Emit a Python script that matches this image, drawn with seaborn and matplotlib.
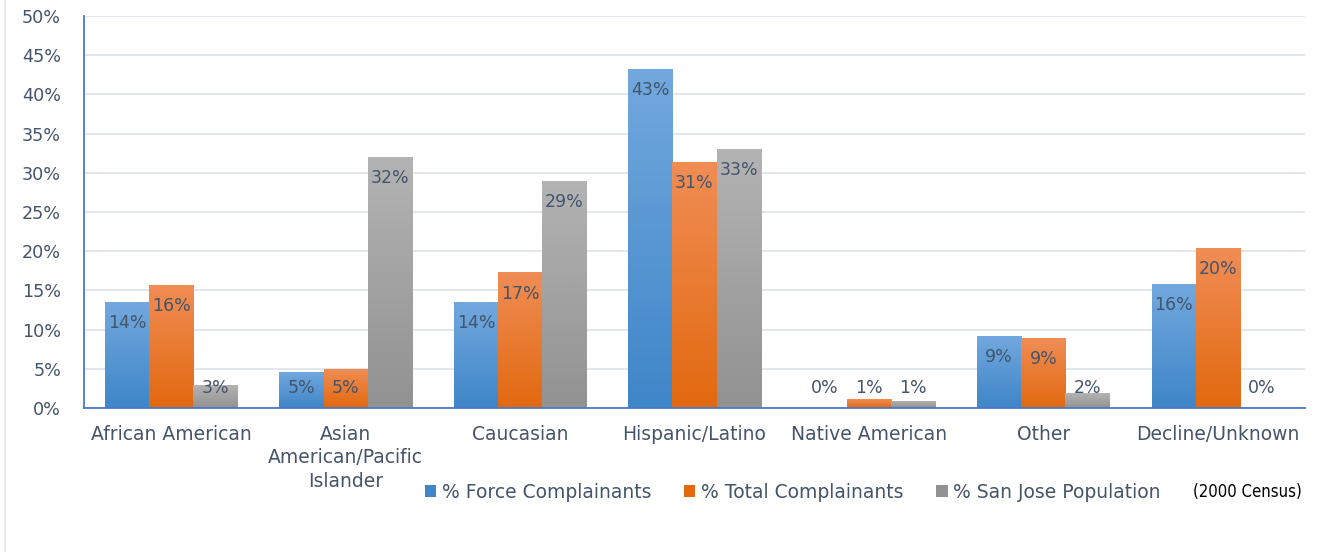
import numpy as np
import pandas as pd
import seaborn as sns
import matplotlib.pyplot as plt
from matplotlib.colors import LinearSegmentedColormap
from matplotlib.patches import Patch

# data (percent)
categories = ['African American', 'Asian\nAmerican/Pacific\nIslander', 'Caucasian',
              'Hispanic/Latino', 'Native American', 'Other', 'Decline/Unknown']
series = ['% Force Complainants', '% Total Complainants', '% San Jose Population']
force_pct = [13.5, 4.6, 13.5, 43.2, 0.0, 9.2, 15.8]
total_pct = [15.7, 5.0, 17.3, 31.4, 1.1, 8.9, 20.4]
population_pct = [2.9, 32.0, 29.0, 33.0, 0.9, 1.9, 0.0]

# gradient colours (top, bottom) per series
grad = {
    series[0]: ('#72a8de', '#3f86c8'),
    series[1]: ('#f08d55', '#e2690f'),
    series[2]: ('#b3b3b3', '#929292'),
}
text_col = '#44546a'
axis_col = '#4a78c8'

df = pd.DataFrame({
    'category': categories * 3,
    'series': [s for s in series for _ in categories],
    'value': force_pct + total_pct + population_pct,
})

sns.set_style('white')
plt.rcParams['font.family'] = ['DejaVu Sans']

fig = plt.figure(figsize=(13.2, 5.52), dpi=100)
ax = fig.add_axes([84 / 1320, 1 - 408 / 552, (1305 - 84) / 1320, (408 - 16) / 552])

pal = {s: grad[s][1] for s in series}
sns.barplot(data=df, x='category', y='value', hue='series', hue_order=series,
            order=categories, palette=pal, width=0.76, gap=0, ax=ax,
            legend=False, linewidth=0, saturation=1, zorder=2)

# gradient fill clipped to each bar
for container, s in zip(ax.containers, series):
    cmap = LinearSegmentedColormap.from_list(s, [grad[s][1], grad[s][0]])
    for bar, v in zip(container, df.loc[df.series == s, 'value']):
        x0 = bar.get_x()
        w = bar.get_width()
        if v > 0:
            im = ax.imshow(np.linspace(0, 1, 64).reshape(-1, 1), cmap=cmap,
                           extent=[x0, x0 + w, 0, v], origin='lower',
                           aspect='auto', zorder=2, interpolation='bilinear')
            im.set_clip_path(bar)
            bar.set_facecolor('none')
        # data label, inside end
        ax.text(x0 + w / 2, max(v - 2.7, 2.55), f'{round(v)}%', ha='center',
                va='center', fontsize=12.5, color=text_col, zorder=4)

ax.set_ylim(0, 50)
ax.set_xlim(-0.5, len(categories) - 0.5)
ax.set_aspect('auto')

ax.set_yticks(np.arange(0, 51, 5))
ax.set_yticklabels([f'{t}%' for t in range(0, 51, 5)])
ax.yaxis.grid(True, color='#e1e4ea', linewidth=1.3, zorder=0)
ax.set_axisbelow(True)
ax.set_xlabel('')
ax.set_ylabel('')

for side in ['top', 'right']:
    ax.spines[side].set_visible(False)
ax.spines['left'].set_color(axis_col)
ax.spines['bottom'].set_color(axis_col)
ax.spines['left'].set_linewidth(1.3)
ax.spines['bottom'].set_linewidth(1.3)

ax.tick_params(axis='y', length=0, pad=16.5, labelsize=12.7, labelcolor=text_col)
ax.tick_params(axis='x', which='major', length=0, pad=12, labelsize=13.5,
               labelcolor=text_col)
ax.set_xticks(np.arange(-0.5, len(categories), 1), minor=True)
ax.tick_params(axis='x', which='minor', length=6, color=axis_col, width=1.3)
for lab in ax.get_xticklabels():
    lab.set_linespacing(1.3)
for lab in ax.get_yticklabels():
    lab.set_horizontalalignment('right')

handles = [Patch(facecolor=grad[s][1], edgecolor='none') for s in series]
leg = fig.legend(handles, series, loc='center left',
                 bbox_to_anchor=(408 / 1320, 1 - 492 / 552), ncol=3,
                 frameon=False, fontsize=13.5, handlelength=0.6,
                 handleheight=0.6, handletextpad=0.3, columnspacing=1.75,
                 labelcolor=text_col)
fig.text(1193 / 1320, 1 - 492 / 552, '(2000 Census)', ha='left', va='center',
         fontsize=12, color='black', fontstretch='condensed',
         family=['DejaVu Sans'])

# faint frame line on the left
fig.add_artist(plt.Line2D([5 / 1320, 5 / 1320], [0, 1], color='#e6e6e6',
                          linewidth=1.2, transform=fig.transFigure))

fig.savefig('out.png', dpi=100)
